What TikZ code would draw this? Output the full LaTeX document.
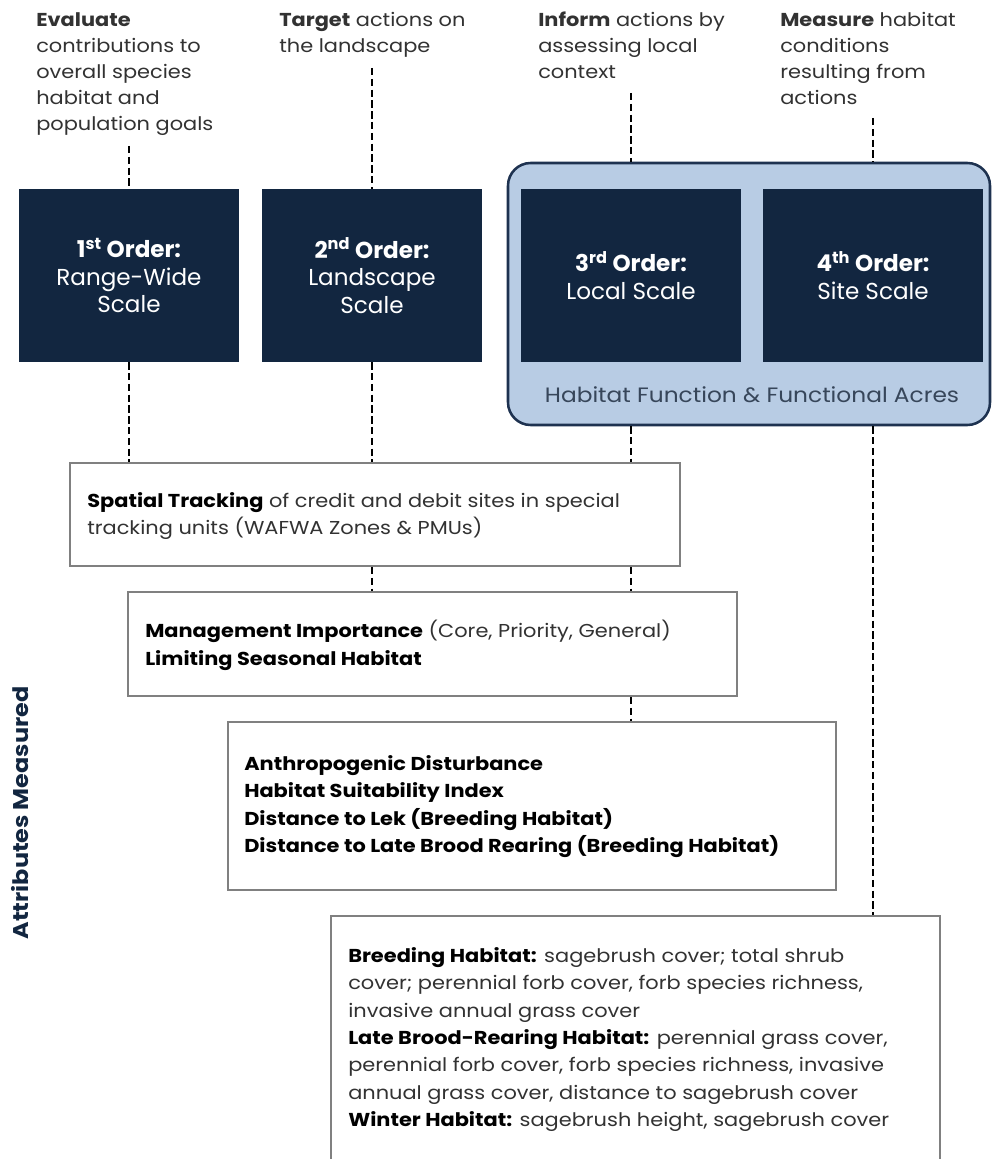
\documentclass[tikz,border=0pt]{standalone}
\usepackage{fontspec}
\setmainfont{Poppins}[FakeStretch=1.12]
\newfontfamily\plainpop{Poppins}
\usetikzlibrary{calc}
\definecolor{navy}{RGB}{18,38,64}
\definecolor{lightblue}{RGB}{184,204,228}
\definecolor{navyline}{RGB}{30,50,80}
\definecolor{boxgray}{RGB}{128,128,128}
\definecolor{txtgray}{RGB}{50,50,50}
\definecolor{bluetxt}{RGB}{55,70,90}
\begin{document}
\begin{tikzpicture}[x=0.75pt,y=-0.75pt,
  toptext/.style={anchor=base west, align=left, inner sep=0pt, text=txtgray, font=\fontsize{14}{19.5}\selectfont},
  darkbox/.style={fill=navy, draw=none, minimum width=165pt, minimum height=129.75pt, inner sep=0pt, text=white, align=center, font=\plainpop\fontsize{17.3}{20.6}\selectfont},
  whitebox/.style={draw=boxgray, line width=1.5pt, fill=white, inner sep=0pt},
  boxtext/.style={anchor=west, align=left, inner sep=0pt, text=txtgray, font=\fontsize{14}{20.5}\selectfont},
  dline/.style={line width=2.1pt, dash pattern=on 5.5pt off 2.6pt, black}
]
\clip (0,0) rectangle (993,1159);
\fill[white] (0,0) rectangle (993,1159);

% top texts (anchored at the baseline of their last line)
\node[toptext] (e1) at (36,130.7) {\textbf{Evaluate}\\contributions to\\overall species\\habitat and\\population goals};
\node[toptext] (e2) at (279,52.7) {\textbf{Target} actions on\\the landscape};
\node[toptext] (e3) at (538,78.7) {\textbf{Inform} actions by\\assessing local\\context};
\node[toptext] (e4) at (780,104.7) {\textbf{Measure} habitat\\conditions\\resulting from\\actions};

\coordinate (c1) at (129,146);
\coordinate (c2) at (372,68);
\coordinate (c3) at (631,93);
\coordinate (c4) at (873,118);

% blue container
\node[draw=navyline, line width=1.9pt, fill=lightblue, rounded corners=17pt,
      minimum width=361.5pt, minimum height=196.5pt, inner sep=0pt] (blue) at (749,294) {};
\node[text=bluetxt, font=\fontsize{15.6}{19}\selectfont, inner sep=0pt] (bluet) at (752,395) {Habitat Function \& Functional Acres};

% dark boxes
\node[darkbox] (b1) at (129,275.5) {\textbf{1\textsuperscript{st} Order:}\\Range-Wide\\Scale};
\node[darkbox] (b2) at (372,275.5) {\textbf{2\textsuperscript{nd} Order:}\\Landscape\\Scale};
\node[darkbox] (b3) at (631,275.5) {\textbf{3\textsuperscript{rd} Order:}\\Local Scale};
\node[darkbox] (b4) at (873,275.5) {\textbf{4\textsuperscript{th} Order:}\\Site Scale};

% white boxes
\node[whitebox, minimum width=457.5pt, minimum height=77.25pt] (sp) at (375,514.5) {};
\node[whitebox, minimum width=456.75pt, minimum height=78pt] (mg) at (432.5,644) {};
\node[whitebox, minimum width=456pt, minimum height=126pt] (an) at (532,806) {};
\node[whitebox, minimum width=456.75pt, minimum height=198pt] (bt) at (635.5,1048) {};

\node[boxtext] (spt) at (87,516) {\textbf{\color{black}Spatial Tracking} of credit and debit sites in special\\tracking units (WAFWA Zones \& PMUs)};
\node[boxtext] (mgt) at (145,645.5) {\textbf{\color{black}Management Importance} (Core, Priority, General)\\\textbf{\color{black}Limiting Seasonal Habitat}};
\node[boxtext, text=black, font=\bfseries\fontsize{14}{20.7}\selectfont] (ant) at (244,806.5) {Anthropogenic Disturbance\\Habitat Suitability Index\\Distance to Lek (Breeding Habitat)\\Distance to Late Brood Rearing (Breeding Habitat)};
\node[boxtext] (btt) at (348,1039.5) {\textbf{\color{black}Breeding Habitat:} sagebrush cover; total shrub\\
cover; perennial forb cover, forb species richness,\\
invasive annual grass cover\\
\textbf{\color{black}Late Brood-Rearing Habitat:} perennial grass cover,\\
perennial forb cover, forb species richness, invasive\\
annual grass cover, distance to sagebrush cover\\
\textbf{\color{black}Winter Habitat:} sagebrush height, sagebrush cover};

% side label
\node[rotate=90, text=navy, font=\bfseries\fontsize{16}{19}\selectfont, inner sep=0pt] (attr) at (20,813) {Attributes Measured};

% dashed connectors
\draw[dline] (c1) -- (c1 |- b1.north);
\draw[dline] (b1.south) -- (b1.south |- sp.north);
\draw[dline] (c2) -- (b2.north);
\draw[dline] (b2.south) -- (b2.south |- sp.north);
\draw[dline] (b2.south |- sp.south) -- (b2.south |- mg.north);
\draw[dline] (c3) -- (c3 |- blue.north);
\draw[dline] (c3 |- blue.south) -- (c3 |- sp.north);
\draw[dline] (c3 |- sp.south) -- (c3 |- mg.north);
\draw[dline] (c3 |- mg.south) -- (c3 |- an.north);
\draw[dline] (c4) -- (c4 |- blue.north);
\draw[dline] (c4 |- blue.south) -- (c4 |- bt.north);
\end{tikzpicture}
\end{document}
